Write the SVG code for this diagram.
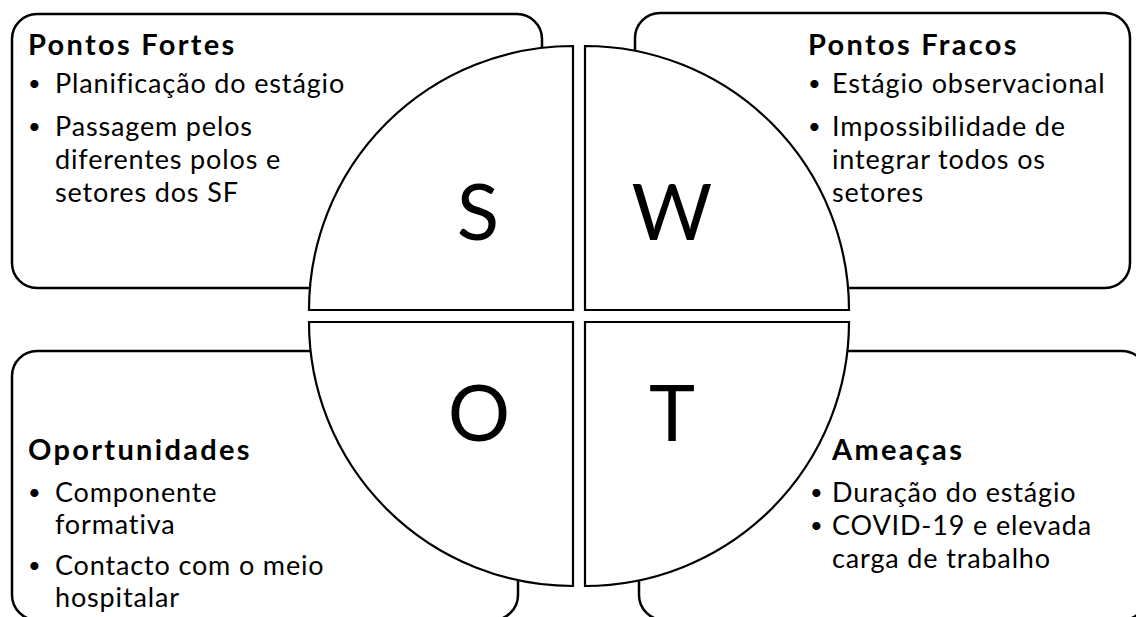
<svg xmlns="http://www.w3.org/2000/svg" width="1136" height="617" viewBox="0 0 1136 617">
<style>
.box{fill:#fff;stroke:#000;stroke-width:2.5}
.q{fill:#fff;stroke:#000;stroke-width:2.2;stroke-linejoin:miter}
.t{font-family:Lato,"Noto Sans",sans-serif;font-size:27px;letter-spacing:0.85px;fill:#000}
.b{font-family:Lato,"Noto Sans",sans-serif;font-size:22px;fill:#000}
.h{font-family:Lato,"Noto Sans",sans-serif;font-size:29px;letter-spacing:2.3px;font-weight:bold;fill:#000}
.big{font-family:Lato,"Noto Sans",sans-serif;font-size:78px;font-weight:400;fill:#000;text-anchor:middle}
</style>
<rect width="1136" height="617" fill="#fff"/>
<g id="box-strengths"><rect class="box" x="12" y="14" width="530" height="274" rx="25"/></g>
<g id="box-weaknesses"><rect class="box" x="635" y="13" width="495" height="275" rx="25"/></g>
<g id="box-opportunities"><rect class="box" x="12" y="351" width="506" height="269" rx="25"/></g>
<g id="box-threats"><rect class="box" x="639" y="351" width="508" height="269" rx="25"/></g>
<g id="quad-s"><path class="q" d="M573,310 L309,310 A264,264 0 0 1 573,46 Z"/><text class="big" x="478" y="240">S</text></g>
<g id="quad-w"><path class="q" d="M585,310 L585,46 A264,264 0 0 1 849,310 Z"/><text class="big" x="672" y="240">W</text></g>
<g id="quad-o"><path class="q" d="M573,322 L573,586 A264,264 0 0 1 309,322 Z"/><text class="big" x="479" y="441">O</text></g>
<g id="quad-t"><path class="q" d="M585,322 L849,322 A264,264 0 0 1 585,586 Z"/><text class="big" x="672" y="441">T</text></g>
<g id="text-strengths">
<text class="h" x="28" y="55">Pontos Fortes</text>
<text class="b" x="28" y="91">•</text><text class="t" x="55" y="93">Planificação do estágio</text>
<text class="b" x="28" y="134">•</text><text class="t" x="55" y="136">Passagem pelos</text>
<text class="t" x="55" y="169">diferentes polos e</text>
<text class="t" x="55" y="202">setores dos SF</text>
</g>
<g id="text-weaknesses">
<text class="h" x="808" y="55">Pontos Fracos</text>
<text class="b" x="808" y="91">•</text><text class="t" x="832" y="93">Estágio observacional</text>
<text class="b" x="808" y="134">•</text><text class="t" x="832" y="136">Impossibilidade de</text>
<text class="t" x="832" y="169">integrar todos os</text>
<text class="t" x="832" y="202">setores</text>
</g>
<g id="text-opportunities">
<text class="h" x="28" y="460">Oportunidades</text>
<text class="b" x="28" y="500">•</text><text class="t" x="55" y="502">Componente</text>
<text class="t" x="55" y="534">formativa</text>
<text class="b" x="28" y="573">•</text><text class="t" x="55" y="575">Contacto com o meio</text>
<text class="t" x="55" y="607">hospitalar</text>
</g>
<g id="text-threats">
<text class="h" x="832" y="460">Ameaças</text>
<text class="b" x="810" y="500">•</text><text class="t" x="832" y="502">Duração do estágio</text>
<text class="b" x="810" y="533">•</text><text class="t" x="832" y="535">COVID-19 e elevada</text>
<text class="t" x="832" y="568">carga de trabalho</text>
</g>
</svg>
